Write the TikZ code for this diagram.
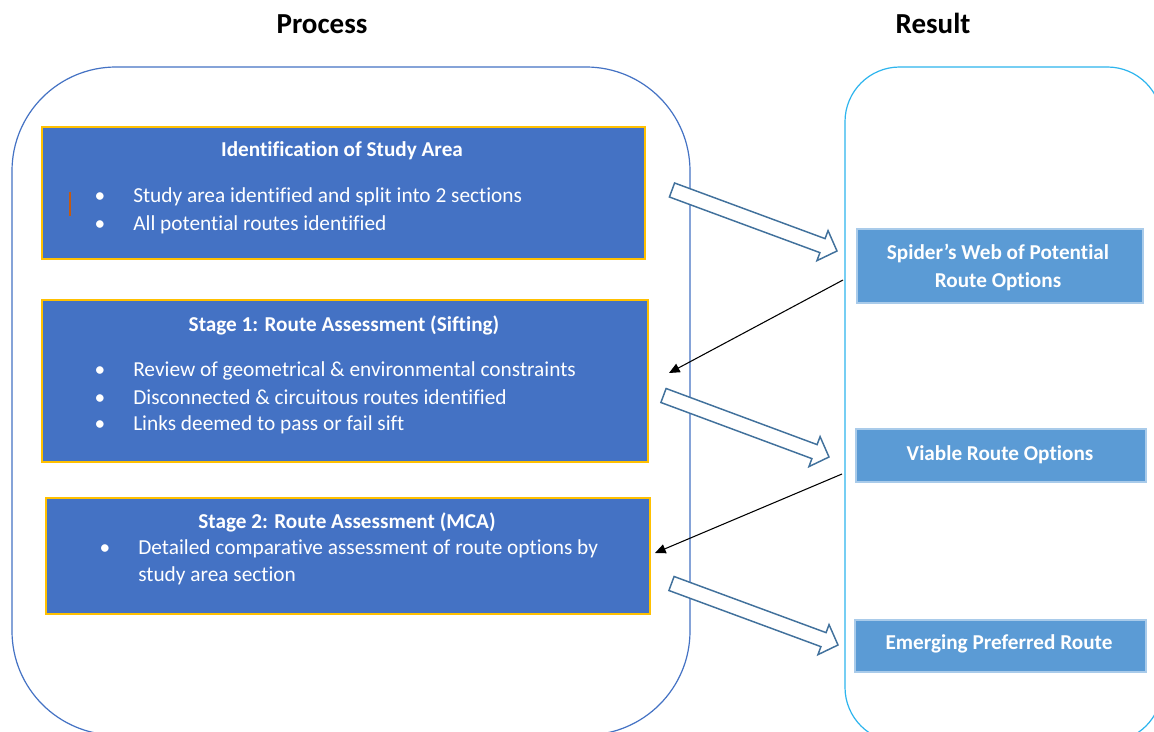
\documentclass[tikz,border=0pt]{standalone}
\usepackage{fontspec}
\setmainfont{Carlito}[Ligatures=NoCommon]
\usetikzlibrary{calc,fit,arrows.meta}
\definecolor{procblue}{HTML}{4472C4}
\definecolor{goldedge}{HTML}{FFC000}
\definecolor{resblue}{HTML}{5B9BD5}
\definecolor{resedge}{HTML}{A9CBEA}
\definecolor{cyanedge}{HTML}{2DB5EE}
\definecolor{arrowedge}{HTML}{41719C}
\definecolor{cursorcol}{HTML}{C55A11}
\newcommand\blockarrow[2]{%
  \coordinate (ba-B) at ($(#2)!11.6pt!(#1)$);
  \draw[barrow] ($(#1)!5.6pt!90:(#2)$) -- ($(ba-B)!5.6pt!90:(#2)$) -- ($(ba-B)!12pt!90:(#2)$) -- (#2)
    -- ($(ba-B)!12pt!-90:(#2)$) -- ($(ba-B)!5.6pt!-90:(#2)$) -- ($(#1)!5.6pt!-90:(#2)$) -- cycle;}
\tikzset{
  procframe/.style={draw=procblue, line width=0.9pt, rounded corners=78pt, inner sep=0pt},
  resframe/.style={draw=cyanedge, line width=0.9pt, rounded corners=41pt, inner sep=0pt},
  pbox/.style={draw=goldedge, fill=procblue, line width=1pt, inner sep=0pt},
  rbox/.style={draw=resedge, fill=resblue, line width=0.8pt, inner sep=0pt},
  head/.style={font=\fontsize{21.75}{26}\selectfont\bfseries, anchor=mid, inner sep=0pt},
  ptitle/.style={text=white, font=\fontsize{15.9}{19}\selectfont\bfseries, anchor=mid, inner sep=0pt},
  btext/.style={text=white, font=\fontsize{16}{19}\selectfont, anchor=mid west, inner sep=0pt},
  bul/.style={text=white, font=\fontsize{16}{19}\selectfont, anchor=mid, inner sep=0pt},
  rtext/.style={text=white, font=\fontsize{15.9}{21}\selectfont\bfseries, align=center, inner sep=0pt},
  barrow/.style={draw=arrowedge, line width=1.1pt, fill=white, line join=miter},
  thinarrow/.style={draw=black, line width=0.8pt, -{Triangle[length=8pt,width=7pt]}}
}
\begin{document}
\begin{tikzpicture}[x=0.75pt,y=-0.75pt]
\useasboundingbox (0,0) rectangle (1154,732);
\clip (0,0) rectangle (1154,732);
\fill[white] (0,0) rectangle (1154,732);

% containers
\node[procframe, fit={(12,67) (690,735)}] (proc) {};
\node[resframe, fit={(845,67) (1162,742)}] (res) {};

% headings
\node[head] (proch) at (322,30) {Process};
\node[head] (resh) at (933,30) {Result};

% process boxes
\node[pbox, fit={(42,127) (645,259)}] (b1) {};
\node[ptitle] (b1t) at (342,153) {Identification of Study Area};
\node[bul] (b1d1) at (100,199) {•};
\node[btext] (b1l1) at (133,199) {Study area identified and split into 2 sections};
\node[bul] (b1d2) at (100,227) {•};
\node[btext] (b1l2) at (133,227) {All potential routes identified};
\draw[cursorcol, line width=0.8pt] (70,192) -- (70,216);

\node[pbox, fit={(42,300) (648,462)}] (b2) {};
\node[ptitle] (b2t) at (344,328) {Stage 1: Route Assessment (Sifting)};
\node[bul] (b2d1) at (100,373) {•};
\node[btext] (b2l1) at (133,373) {Review of geometrical \& environmental constraints};
\node[bul] (b2d2) at (100,401) {•};
\node[btext] (b2l2) at (133,401) {Disconnected \& circuitous routes identified};
\node[bul] (b2d3) at (100,427) {•};
\node[btext] (b2l3) at (133,427) {Links deemed to pass or fail sift};

\node[pbox, fit={(46,498) (650,614)}] (b3) {};
\node[ptitle] (b3t) at (347,525) {Stage 2: Route Assessment (MCA)};
\node[bul] (b3d1) at (105,551) {•};
\node[btext] (b3l1) at (138,551) {Detailed comparative assessment of route options by};
\node[btext] (b3l2) at (138,578) {study area section};

% result boxes
\node[rbox, fit={(857,229) (1143,303)}] (r1) {};
\node[rtext] (r1t) at (998,267) {Spider’s Web of Potential\\Route Options};
\node[rbox, fit={(856,429) (1146,482)}] (r2) {};
\node[rtext] (r2t) at (1000,455) {Viable Route Options};
\node[rbox, fit={(855,620) (1146,672)}] (r3) {};
\node[rtext] (r3t) at (999,644) {Emerging Preferred Route};

% block arrows
\coordinate (a1t) at (672,190);  \coordinate (a1p) at (837,251);
\coordinate (a2t) at (663.5,395.5); \coordinate (a2p) at (829,457);
\coordinate (a3t) at (671.5,583.5); \coordinate (a3p) at (838,645);
\blockarrow{a1t}{a1p}
\blockarrow{a2t}{a2p}
\blockarrow{a3t}{a3p}

% feedback arrows
\coordinate (s1) at (843,280); \coordinate (e1) at (669,373);
\coordinate (s2) at (842,474); \coordinate (e2) at (655,553);
\draw[thinarrow] (s1) -- (e1);
\draw[thinarrow] (s2) -- (e2);
\end{tikzpicture}
\end{document}
